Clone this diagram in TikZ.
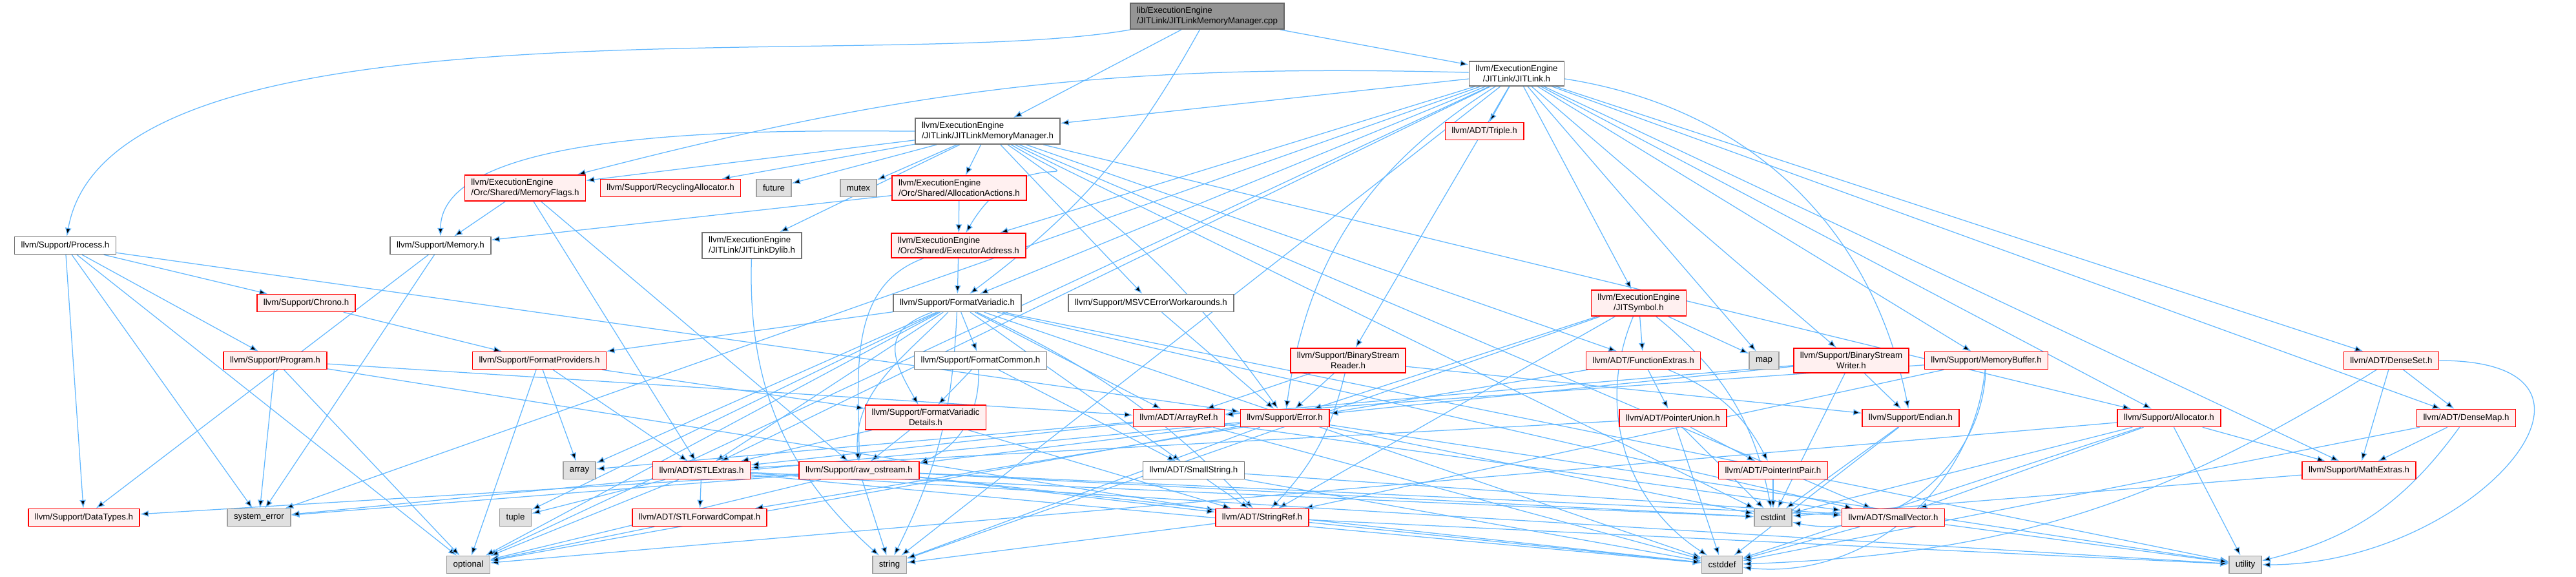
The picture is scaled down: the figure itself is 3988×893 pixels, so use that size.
\documentclass[tikz,border=0pt]{standalone}
\usepackage{fontspec}
\setmainfont{Liberation Sans}
\usetikzlibrary{arrows.meta,backgrounds}
\definecolor{edgeblue}{HTML}{63B8FF}
\definecolor{redfill}{HTML}{FFF0F0}
\definecolor{sysfill}{HTML}{E0E0E0}

\begin{document}
\begin{tikzpicture}[x=0.2pt,y=-0.2pt,
  hdr/.style={draw=black!55,fill=white,line width=0.3pt,inner xsep=2pt,inner ysep=1.2pt,
    minimum height=5.4pt,font=\fontsize{2.66}{3.2}\selectfont},
  redhdr/.style={hdr,draw=red,fill=redfill},
  syshdr/.style={hdr,draw=black!38,fill=sysfill},
  roothdr/.style={hdr,draw=black!60,fill=black!42},
  dep/.style={draw=edgeblue,line width=0.25pt,-{Latex[length=2.6pt,width=2pt]}}]
\useasboundingbox (0,0) rectangle (3988,893);

\node[roothdr,align=left] (cppfile) at (1869,25) {lib/ExecutionEngine\\/JITLink/JITLinkMemoryManager.cpp};
\node[hdr,align=left] (jlmm) at (1529,203) {llvm/ExecutionEngine\\/JITLink/JITLinkMemoryManager.h};
\node[hdr,align=center] (jitlink) at (2348,114) {llvm/ExecutionEngine\\/JITLink/JITLink.h};

\node[hdr] (process) at (101,380) {llvm/Support/Process.h};
\node[hdr] (memory) at (682,380) {llvm/Support/Memory.h};
\node[redhdr,align=left] (memflags) at (813,291) {llvm/ExecutionEngine\\/Orc/Shared/MemoryFlags.h};
\node[redhdr] (recycling) at (1038,291) {llvm/Support/RecyclingAllocator.h};
\node[syshdr] (future) at (1198,291) {future};
\node[syshdr] (mutex) at (1329,291) {mutex};
\node[redhdr,align=left] (allocactions) at (1485,291) {llvm/ExecutionEngine\\/Orc/Shared/AllocationActions.h};
\node[hdr,align=left] (dylib) at (1164,380) {llvm/ExecutionEngine\\/JITLink/JITLinkDylib.h};
\node[redhdr,align=left] (execaddr) at (1484,380) {llvm/ExecutionEngine\\/Orc/Shared/ExecutorAddress.h};
\node[redhdr] (triple) at (2298,203) {llvm/ADT/Triple.h};

\node[redhdr] (chrono) at (474,469) {llvm/Support/Chrono.h};
\node[hdr] (fmtvariadic) at (1482,469) {llvm/Support/FormatVariadic.h};
\node[hdr] (msvc) at (1782,469) {llvm/Support/MSVCErrorWorkarounds.h};
\node[redhdr,align=center] (jitsymbol) at (2537,469) {llvm/ExecutionEngine\\/JITSymbol.h};

\node[redhdr] (program) at (426,558) {llvm/Support/Program.h};
\node[redhdr] (fmtproviders) at (835,558) {llvm/Support/FormatProviders.h};
\node[hdr] (fmtcommon) at (1518,558) {llvm/Support/FormatCommon.h};
\node[redhdr,align=center] (streamreader) at (2087,558) {llvm/Support/BinaryStream\\Reader.h};
\node[redhdr] (fnextras) at (2544,558) {llvm/ADT/FunctionExtras.h};
\node[syshdr] (map) at (2731,558) {map};
\node[redhdr,align=center] (streamwriter) at (2866,558) {llvm/Support/BinaryStream\\Writer.h};
\node[redhdr] (memorybuffer) at (3075,558) {llvm/Support/MemoryBuffer.h};
\node[redhdr] (denseset) at (3702,558) {llvm/ADT/DenseSet.h};

\node[redhdr,align=center] (fvdetails) at (1433,646) {llvm/Support/FormatVariadic\\Details.h};
\node[redhdr] (arrayref) at (1825,647) {llvm/ADT/ArrayRef.h};
\node[redhdr] (error) at (1989,647) {llvm/Support/Error.h};
\node[redhdr] (ptrunion) at (2590,647) {llvm/ADT/PointerUnion.h};
\node[redhdr] (endian) at (2958,647) {llvm/Support/Endian.h};
\node[redhdr] (allocator) at (3358,647) {llvm/Support/Allocator.h};
\node[redhdr] (densemap) at (3818,647) {llvm/ADT/DenseMap.h};

\node[syshdr] (array) at (897,728) {array};
\node[redhdr] (stlextras) at (1086,728) {llvm/ADT/STLExtras.h};
\node[redhdr] (rawostream) at (1330,728) {llvm/Support/raw\_ostream.h};
\node[hdr] (smallstring) at (1848,728) {llvm/ADT/SmallString.h};
\node[redhdr] (ptrintpair) at (2745,728) {llvm/ADT/PointerIntPair.h};
\node[redhdr] (mathextras) at (3652,728) {llvm/Support/MathExtras.h};

\node[redhdr] (datatypes) at (130,801) {llvm/Support/DataTypes.h};
\node[syshdr] (syserror) at (401,801) {system\_error};
\node[syshdr] (tuple) at (798,801) {tuple};
\node[redhdr] (stlforward) at (1083,801) {llvm/ADT/STLForwardCompat.h};
\node[redhdr] (stringref) at (1954,801) {llvm/ADT/StringRef.h};
\node[syshdr] (cstdint) at (2745,801) {cstdint};
\node[redhdr] (smallvector) at (2931,801) {llvm/ADT/SmallVector.h};

\node[syshdr] (optional) at (725,874) {optional};
\node[syshdr] (string) at (1377,874) {string};
\node[syshdr] (cstddef) at (2666,874) {cstddef};
\node[syshdr] (utility) at (3476,874) {utility};

\begin{scope}[on background layer]
% the source file
\draw[dep] (cppfile) edge (jlmm) edge (jitlink) edge[bend left=12] (fmtvariadic)
  edge[out=190,in=80,looseness=0.6] (process);
% JITLinkMemoryManager.h
\draw[dep] (jlmm) edge[out=180,in=90,looseness=0.6] (memory) edge (memflags) edge (recycling)
  edge (future) edge (mutex) edge (allocactions) edge[out=-30,in=60,looseness=3] (execaddr)
  edge (dylib) edge[bend left=10] (error) edge (msvc) edge (fnextras) edge (allocator)
  edge (smallvector) edge (cstdint);
% JITLink.h
\draw[dep] (jitlink) edge (jlmm) edge[bend right=8] (memflags) edge (triple) edge (jitsymbol)
  edge (execaddr) edge[bend right=25] (error) edge (fmtvariadic) edge (streamreader)
  edge (streamwriter) edge (map) edge (memorybuffer) edge[bend left=35] (endian)
  edge (allocator) edge (mathextras) edge (denseset) edge (densemap) edge (stlextras)
  edge (syserror) edge (optional) edge (string);
\draw[dep] (memflags) edge (memory) edge (stlextras) edge (rawostream);
\draw[dep] (allocactions) edge (execaddr) edge (memory);
\draw[dep] (execaddr) edge (fmtvariadic) edge[out=200,in=90] (rawostream);
\draw[dep] (dylib) edge[bend right=25] (string);
\draw[dep] (memory) edge (datatypes) edge (syserror);
\draw[dep] (process) edge (chrono) edge (program) edge (datatypes) edge (syserror)
  edge (optional) edge (error);
\draw[dep] (chrono) edge (fmtproviders);
\draw[dep] (program) edge (syserror) edge (optional) edge (arrayref) edge (stringref);
\draw[dep] (fmtproviders) edge (fvdetails) edge (stlextras) edge (array) edge (optional);
% FormatVariadic.h
\draw[dep] (fmtvariadic) edge (fmtcommon) edge (fmtproviders)
  edge[out=200,in=120,looseness=1.5] (fvdetails) edge[out=225,in=95] (rawostream)
  edge (arrayref) edge (stlextras) edge (smallstring) edge (smallvector)
  edge[bend left=10] (stringref) edge (array) edge (tuple) edge (optional)
  edge[bend left=12] (string) edge (cstddef) edge (utility);
\draw[dep] (fmtcommon) edge (fvdetails) edge[bend left=35] (rawostream) edge (smallstring);
\draw[dep] (fvdetails) edge (stlextras) edge (rawostream) edge (stringref);
\draw[dep] (msvc) edge (error);
\draw[dep] (jitsymbol) edge (fnextras) edge (map) edge (error) edge (stringref)
  edge[bend left=20] (cstdint) edge[bend right=40] (cstddef) edge (string);
\draw[dep] (fnextras) edge (ptrunion) edge[bend left=20] (ptrintpair) edge (stlforward);
\draw[dep] (ptrunion) edge (ptrintpair) edge (stlextras) edge (cstdint) edge (cstddef);
\draw[dep] (ptrintpair) edge (cstdint);
\draw[dep] (streamreader) edge (error) edge (arrayref) edge[bend left=15] (stringref)
  edge (endian);
\draw[dep] (streamwriter) edge (endian) edge (error) edge (arrayref) edge (cstdint);
\draw[dep] (memorybuffer) edge (arrayref) edge (stringref) edge[bend left=45] (cstddef)
  edge[bend left=50] (cstdint);
\draw[dep] (endian) edge (cstddef) edge (cstdint);
\draw[dep] (allocator) edge (smallvector) edge (mathextras) edge (cstddef) edge (cstdint)
  edge (optional) edge (utility);
\draw[dep] (mathextras) edge (cstdint);
\draw[dep] (denseset) edge (densemap) edge (mathextras) edge[bend left=15] (cstddef)
  edge[out=0,in=0,looseness=2] (utility);
\draw[dep] (densemap) edge (mathextras) edge (cstddef) edge[bend left=20] (utility);
\draw[dep] (smallvector) edge (cstddef) edge (utility);
\draw[dep] (smallstring) edge (smallvector) edge (stringref) edge (cstddef);
\draw[dep] (stringref) edge (string) edge (cstddef) edge (utility);
\draw[dep] (stlextras) edge (stlforward) edge (tuple) edge (optional) edge (cstddef)
  edge (cstdint) edge (utility);
\draw[dep] (stlforward) edge (optional);
\draw[dep] (rawostream) edge (datatypes) edge (syserror) edge (optional) edge (string)
  edge (stringref) edge (smallvector) edge (cstddef) edge (cstdint);
\draw[dep] (arrayref) edge (array) edge (stlextras) edge (smallvector) edge (cstddef);
\draw[dep] (error) edge (rawostream) edge (syserror) edge (optional) edge (string)
  edge (cstdint) edge (utility);
\end{scope}
\end{tikzpicture}
\end{document}
